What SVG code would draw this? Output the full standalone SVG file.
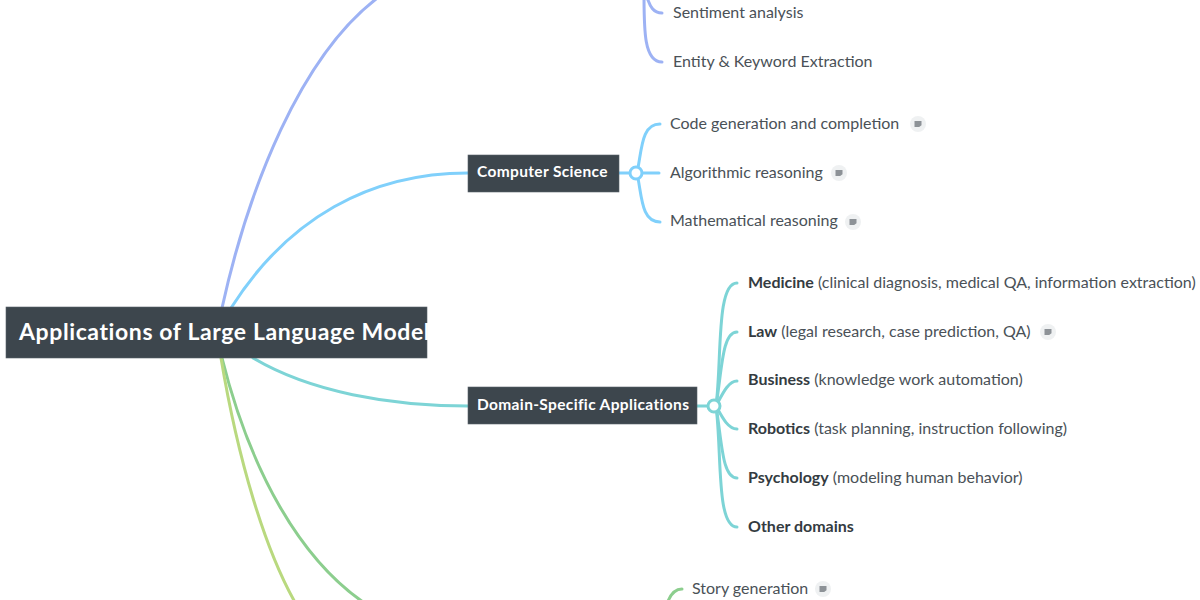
<svg xmlns="http://www.w3.org/2000/svg" width="1200" height="600" viewBox="0 0 1200 600">
  <style>
    text { font-family: "Lato", "Noto Sans", sans-serif; }
    .leaf { font-size: 16px; fill: #4a5157; }
    .leaf b, .strong { font-weight: 700; fill: #343b41; }
    .topic { font-size: 15.5px; font-weight: 700; fill: #ffffff; letter-spacing: 0.35px; }
    .root { font-size: 23px; font-weight: 700; fill: #ffffff; letter-spacing: 0.6px; }
    .box { fill: #3d464d; stroke: #59626a; stroke-width: 0.6; }
    .line { fill: none; stroke-width: 3; stroke-linecap: round; }
    .thin { fill: none; stroke-width: 3; stroke-linecap: round; }
    .hub { fill: #ffffff; stroke-width: 3; }
    .blue { stroke: #9db2f4; }
    .sky { stroke: #80d0fb; }
    .teal { stroke: #7dd4d6; }
    .green { stroke: #8cce8e; }
    .lime { stroke: #b9d97f; }
  </style>
  <defs>
    <g id="note">
      <circle r="8" fill="#eff1f2"/>
      <path d="M-3.5 -3 H3.5 V1.2 L1.2 3 H-3.5 Z" fill="#8d9297"/>
    </g>
  </defs>
  <rect width="1200" height="600" fill="#ffffff"/>

  <g id="connectors">
    <path class="line blue" d="M222 308 C248 190 300 55 380 -4"/>
    <path class="line sky" d="M231 308 C288 218 370 173 468 173"/>
    <path class="line teal" d="M253 358 C310 392 390 406 468 406"/>
    <path class="line green" d="M222 358 C250 470 300 560 366 604"/>
    <path class="line lime" d="M221 358 C238 460 265 550 296 604"/>

    <path class="thin blue" d="M644 -6 C644 30 644 62 662 62"/>
    <path class="thin blue" d="M646 -6 C650 8 654 13 662 13"/>

    <path class="thin sky" d="M619 173 H659"/>
    <path class="thin sky" d="M637 173 C642 150 641 124 660 124"/>
    <path class="thin sky" d="M637 173 C642 196 641 222 660 222"/>

    <path class="thin teal" d="M697 406 H714"/>
    <path class="thin teal" d="M716 406 C722 360 716 283 737 283"/>
    <path class="thin teal" d="M716 406 C722 370 722 332 737 332"/>
    <path class="thin teal" d="M716 406 C722 395 728 381 737 381"/>
    <path class="thin teal" d="M716 406 C722 417 728 429 737 429"/>
    <path class="thin teal" d="M716 406 C722 442 722 478 737 478"/>
    <path class="thin teal" d="M716 406 C722 452 716 527 737 527"/>

    <path class="thin green" d="M667 604 C670 595 675 589 682 589"/>

    <circle class="hub sky" cx="636" cy="173" r="6"/>
    <circle class="hub teal" cx="714" cy="406" r="6"/>
  </g>

  <g id="root">
    <rect class="box" x="6" y="307" width="421" height="51"/>
    <text class="root" x="19" y="340">Applications of Large Language Models</text>
  </g>

  <g id="computer-science">
    <rect class="box" x="468" y="155" width="151" height="37"/>
    <text class="topic" x="477" y="177">Computer Science</text>
  </g>

  <g id="domain-specific">
    <rect class="box" x="468" y="387" width="229" height="37"/>
    <text class="topic" x="477" y="410">Domain-Specific Applications</text>
  </g>

  <g id="sentiment"><text class="leaf" x="673" y="18">Sentiment analysis</text></g>
  <g id="entity"><text class="leaf" x="673" y="67">Entity &amp; Keyword Extraction</text></g>

  <g id="code-generation">
    <text class="leaf" x="670" y="129">Code generation and completion</text>
    <use href="#note" x="918" y="124"/>
  </g>
  <g id="algorithmic">
    <text class="leaf" x="670" y="178">Algorithmic reasoning</text>
    <use href="#note" x="839" y="173"/>
  </g>
  <g id="mathematical">
    <text class="leaf" x="670" y="226">Mathematical reasoning</text>
    <use href="#note" x="853" y="222"/>
  </g>

  <g id="medicine"><text class="leaf" x="748" y="288"><tspan class="strong">Medicine</tspan> (clinical diagnosis, medical QA, information extraction)</text></g>
  <g id="law">
    <text class="leaf" x="748" y="337"><tspan class="strong">Law</tspan> (legal research, case prediction, QA)</text>
    <use href="#note" x="1048" y="332"/>
  </g>
  <g id="business"><text class="leaf" x="748" y="385"><tspan class="strong">Business</tspan> (knowledge work automation)</text></g>
  <g id="robotics"><text class="leaf" x="748" y="434"><tspan class="strong">Robotics</tspan> (task planning, instruction following)</text></g>
  <g id="psychology"><text class="leaf" x="748" y="483"><tspan class="strong">Psychology</tspan> (modeling human behavior)</text></g>
  <g id="other-domains"><text class="leaf strong" x="748" y="532">Other domains</text></g>

  <g id="story">
    <text class="leaf" x="692" y="594">Story generation</text>
    <use href="#note" x="823" y="589"/>
  </g>
</svg>
